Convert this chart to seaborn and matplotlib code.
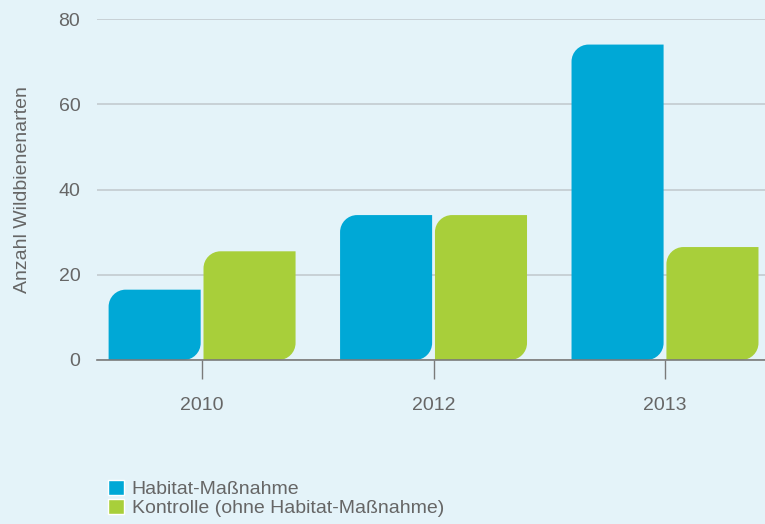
import pandas as pd
import matplotlib.pyplot as plt
import seaborn as sns
from matplotlib.path import Path
from matplotlib.patches import PathPatch

# Data
years = ['2010', '2012', '2013']
habitat = [16.5, 34, 74]
kontrolle = [25.5, 34, 26.5]
groups = ['Habitat-Maßnahme', 'Kontrolle (ohne Habitat-Maßnahme)']
ylabel = 'Anzahl Wildbienenarten'

bg = '#e4f3f9'
colors = ['#00a8d6', '#a8cf3a']
text_col = '#666666'
fs = 14

df = pd.DataFrame({
    'year': years * 2,
    'value': habitat + kontrolle,
    'group': [groups[0]] * len(years) + [groups[1]] * len(years),
})

sns.set_theme(style='white')
plt.rcParams['font.family'] = ['Liberation Sans', 'DejaVu Sans']

W, H = 765, 524
fig = plt.figure(figsize=(W / 100, H / 100), dpi=100, facecolor=bg)
ax = fig.add_axes([97 / W, 1 - 360 / H, 1 - 97 / W, (360 - 19) / H])
ax.set_facecolor(bg)

sns.barplot(ax=ax, data=df, x='year', y='value', hue='group', palette=colors,
            width=0.82, gap=0.03, saturation=1, legend=True)

ax.set_xlim(-0.454, 2.432)
ax.set_ylim(0, 80)
ax.set_yticks([0, 20, 40, 60, 80])

# Leaf-shaped bars: round top-left and bottom-right corners
r_px = 17
k = 0.5523
x0, y0 = ax.transData.transform((0, 0))
x1, y1 = ax.transData.transform((1, 1))
rx = r_px / (x1 - x0)
ry = r_px / (y1 - y0)
for bar in list(ax.patches):
    x, y = bar.get_x(), bar.get_y()
    w, h = bar.get_width(), bar.get_height()
    if h <= 0:
        continue
    verts = [
        (x, y), (x + w - rx, y),
        (x + w - rx + k * rx, y), (x + w, y + ry - k * ry), (x + w, y + ry),
        (x + w, y + h), (x + rx, y + h),
        (x + rx - k * rx, y + h), (x, y + h - ry + k * ry), (x, y + h - ry),
        (x, y),
    ]
    codes = [Path.MOVETO, Path.LINETO,
             Path.CURVE4, Path.CURVE4, Path.CURVE4,
             Path.LINETO, Path.LINETO,
             Path.CURVE4, Path.CURVE4, Path.CURVE4,
             Path.CLOSEPOLY]
    ax.add_patch(PathPatch(Path(verts, codes), facecolor=bar.get_facecolor(),
                           edgecolor='none', zorder=2))
    bar.remove()

ax.yaxis.grid(True, color='#c3cbcf', linewidth=1.2)
ax.set_axisbelow(True)
for s in ['left', 'top', 'right']:
    ax.spines[s].set_visible(False)
ax.spines['bottom'].set_color('#7a7a7a')
ax.spines['bottom'].set_linewidth(1.2)
ax.spines['bottom'].set_zorder(5)

ax.tick_params(axis='x', length=14, width=1, color='#7a7a7a', pad=13,
               labelsize=fs, labelcolor=text_col, bottom=True)
ax.tick_params(axis='y', length=0, pad=12, labelsize=fs, labelcolor=text_col)
ax.set_xlabel('')
ax.set_ylabel(ylabel, fontsize=fs, color=text_col)
ax.yaxis.set_label_coords((31 - 97) / (W - 97), 0.5)

sns.move_legend(ax, 'upper left', bbox_to_anchor=(100 / W, 1 - 472 / H),
                bbox_transform=fig.transFigure, frameon=False, title=None,
                fontsize=fs, handlelength=0.82, handleheight=0.82,
                handletextpad=0.4, labelspacing=0.05, borderaxespad=0)
for t in ax.get_legend().get_texts():
    t.set_color(text_col)

fig.savefig('out.png', dpi=100, facecolor=bg)
